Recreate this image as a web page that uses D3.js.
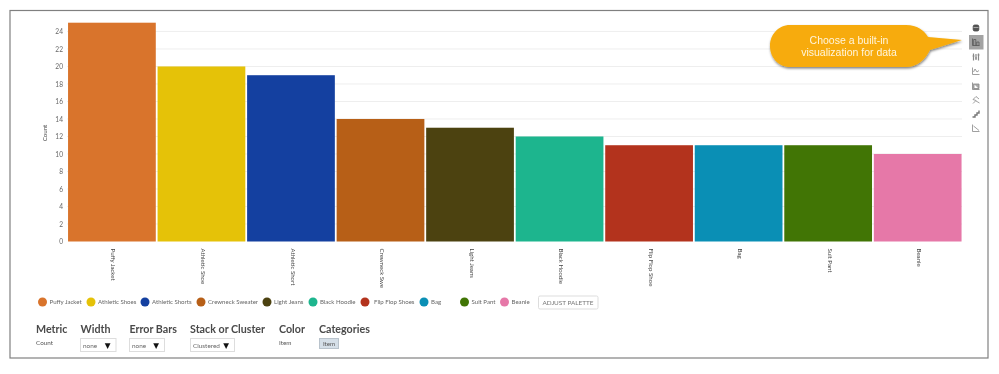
<!DOCTYPE html>
<html>
<head>
<meta charset="utf-8">
<script src="https://d3js.org/d3.v7.min.js"></script>
<style>
    html, body { margin: 0; padding: 0; background: #fff; overflow: hidden; }
    svg { display: block; filter: blur(0.35px); }
    text { font-family: Lato, sans-serif; }
    .axis-y .domain, .axis-x .domain, .axis-x line, .axis-y line { display: none; }
</style>
</head>
<body>
<script>
const items = ["Puffy Jacket", "Athletic Shoes", "Athletic Shorts", "Crewneck Sweater", "Light Jeans",
    "Black Hoodie", "Flip Flop Shoes", "Bag", "Suit Pant", "Beanie"];
const tickLabels = ["Puffy Jacket", "Athletic Shoe", "Athletic Short", "Crewneck Swe", "Light Jeans",
    "Black Hoodie", "Flip Flop Shoe", "Bag", "Suit Pant", "Beanie"];
const counts = [25, 20, 19, 14, 13, 12, 11, 11, 11, 10];
const colors = ["#d9742c", "#e5c208", "#1440a0", "#b75f17", "#4c4210", "#1db58e", "#b3331d", "#0a8fb5", "#417505", "#e678a8"];
const yTicks = [0, 2, 4, 6, 8, 10, 12, 14, 16, 18, 20, 22, 24];
const controlHeads = ["Metric", "Width", "Error Bars", "Stack or Cluster", "Color", "Categories"];
const selectValues = ["none", "none", "Clustered"];

const svg = d3.select("body").append("svg")
    .attr("width", 999)
    .attr("height", 374);

// outer frame
svg.append("rect")
    .attr("x", 10).attr("y", 10.5)
    .attr("width", 978).attr("height", 347.5)
    .attr("fill", "#fff")
    .attr("stroke", "#808080")
    .attr("stroke-width", 1.2);

const xScale = d3.scaleBand()
    .domain(items)
    .range([67.6, 962])
    .paddingInner(0.02)
    .paddingOuter(0.005);

const yScale = d3.scaleLinear()
    .domain([0, 25])
    .range([241.5, 22.7]);

// gridlines
svg.append("g")
    .selectAll("line")
    .data(yTicks.slice(1))
    .enter()
    .append("line")
    .attr("x1", 67)
    .attr("x2", 962)
    .attr("y1", d => yScale(d))
    .attr("y2", d => yScale(d))
    .attr("stroke", "#eeeeee");

svg.append("g")
    .selectAll("rect")
    .data(items)
    .enter()
    .append("rect")
    .attr("x", d => xScale(d))
    .attr("y", (d, i) => yScale(counts[i]))
    .attr("width", xScale.bandwidth())
    .attr("height", (d, i) => yScale(0) - yScale(counts[i]))
    .attr("fill", (d, i) => colors[i]);

const yAxis = d3.axisLeft(yScale).tickValues(yTicks).tickSize(0).tickPadding(4);
svg.append("g")
    .attr("class", "axis-y")
    .attr("transform", "translate(67,0)")
    .call(yAxis)
    .selectAll("text")
    .style("font-family", "Lato, sans-serif")
    .style("font-size", "6.6px")
    .attr("fill", "#666");

const xAxis = d3.axisBottom(xScale).tickSize(0).tickFormat((d, i) => tickLabels[i]);
svg.append("g")
    .attr("class", "axis-x")
    .attr("transform", "translate(1.5,241.5)")
    .call(xAxis)
    .selectAll("text")
    .style("font-family", "Lato, sans-serif")
    .style("font-size", "6.1px")
    .attr("fill", "#444")
    .attr("text-anchor", "start")
    .attr("transform", "rotate(90)")
    .attr("x", 7)
    .attr("y", 0)
    .attr("dy", "0.32em");

svg.append("text")
    .attr("transform", "translate(47,133) rotate(-90)")
    .attr("text-anchor", "middle")
    .attr("font-size", "6.2px")
    .attr("fill", "#444")
    .text("Count");

// legend
const legendX = [42.5, 91, 145, 201, 267, 313, 365, 424, 464.5, 504.5];
const legend = svg.append("g");
items.forEach((item, i) => {
    legend.append("circle")
        .attr("cx", legendX[i])
        .attr("cy", 302)
        .attr("r", 4.5)
        .attr("fill", colors[i]);
    legend.append("text")
        .attr("x", legendX[i] + (i === 6 ? 9 : 7))
        .attr("y", 304.2)
        .attr("font-size", "6.1px")
        .attr("fill", "#666")
        .text(item);
});

svg.append("rect")
    .attr("x", 538.5).attr("y", 296)
    .attr("width", 59.5).attr("height", 13)
    .attr("rx", 1.5)
    .attr("fill", "#fff")
    .attr("stroke", "#dddddd");
svg.append("text")
    .attr("x", 568).attr("y", 304.5)
    .attr("text-anchor", "middle")
    .attr("font-size", "6.4px")
    .attr("fill", "#777")
    .text("ADJUST PALETTE");

// control row
const headX = [36, 80.5, 129.5, 190, 279, 319];
controlHeads.forEach((h, i) => {
    svg.append("text")
        .attr("x", headX[i])
        .attr("y", 333)
        .attr("font-size", "10.7px")
        .attr("font-weight", 700)
        .attr("fill", "#4a4a4a")
        .text(h);
});

svg.append("text").attr("x", 36).attr("y", 344.5)
    .attr("font-size", "6.3px").attr("fill", "#555").text("Count");
svg.append("text").attr("x", 279).attr("y", 344.5)
    .attr("font-size", "6.3px").attr("fill", "#555").text("Item");

const selectBoxes = [[80.5, 35.5], [129.5, 35], [190.5, 44]];
selectValues.forEach((v, i) => {
    const [bx, bw] = selectBoxes[i];
    svg.append("rect")
        .attr("x", bx).attr("y", 338.5)
        .attr("width", bw).attr("height", 13)
        .attr("fill", "#fff")
        .attr("stroke", "#dddddd");
    svg.append("text")
        .attr("x", bx + 2.5).attr("y", 348)
        .attr("font-size", "6.4px").attr("fill", "#666")
        .text(v);
    svg.append("text")
        .attr("x", bx + bw - 8.3).attr("y", 347.5)
        .attr("text-anchor", "middle")
        .attr("font-size", "7.5px").attr("fill", "#111")
        .style("font-family", "'DejaVu Sans', sans-serif")
        .text("▼");
});

svg.append("rect")
    .attr("x", 319.5).attr("y", 338.5)
    .attr("width", 19).attr("height", 10)
    .attr("fill", "#d5dfe8")
    .attr("stroke", "#b9c3cc");
svg.append("text")
    .attr("x", 329).attr("y", 345.8)
    .attr("text-anchor", "middle")
    .attr("font-size", "6.2px").attr("fill", "#555")
    .text("Item");

// toolbar on the right
svg.append("rect")
    .attr("x", 969).attr("y", 35)
    .attr("width", 14.5).attr("height", 14.5)
    .attr("fill", "#a3a3a3");

const iconY = [28, 42, 57, 71, 86, 100, 114, 128];
const icons = svg.append("g")
    .attr("fill", "none")
    .attr("stroke", "#888")
    .attr("stroke-width", 0.8);
iconY.forEach((y, i) => {
    const g = icons.append("g").attr("transform", `translate(976,${y})`);
    if (i === 0) {
        // database cylinder
        g.append("rect").attr("x", -2.8).attr("y", -3).attr("width", 5.6).attr("height", 6).attr("rx", 1.5).attr("fill", "#555").attr("stroke", "#444");
        g.append("path").attr("d", "M-2.5,-0.5H2.5").attr("stroke", "#bbb");
    } else if (i === 1) {
        g.append("path").attr("d", "M-3.5,3.5V-3.5M-3.5,3.5H3.5M-2.3,3.5V-2.5H-0.2V3.5M0.8,3.5V0H3V3.5").attr("stroke", "#555");
    } else if (i === 2) {
        g.append("path").attr("d", "M-2.5,-3.5V3.5M0,-3V3M2.5,-3.5V3.5M-3.5,-1H-1.5M-1,1H1M1.5,-2H3.5").attr("stroke-width", 1.2);
    } else if (i === 3) {
        g.append("path").attr("d", "M-3.5,-3.5V3.5H3.5M-2.5,1L-1,-2L1,1L3,-0.5");
    } else if (i === 4) {
        g.append("path").attr("d", "M-3.5,-3.5V3.5H3.5M-2,-2H3V2.5H-2Z").attr("fill", "#aaa");
    } else if (i === 5) {
        g.append("path").attr("d", "M-3,3.5L0,0.5L-3,-0.5L0,-3.5L3,-1M0,1L3.5,3");
    } else if (i === 6) {
        g.append("path").attr("d", "M-3.5,3H-1V1H1V-1H3V-3.5").attr("stroke-width", 1.4).attr("stroke", "#777");
    } else {
        g.append("path").attr("d", "M-3.5,-3.5V3.5H3.5M-2.5,-2L0,0L3,2.5");
    }
});

// callout
const defs = svg.append("defs");
const shadow = defs.append("filter").attr("id", "callout-shadow")
    .attr("x", "-10%").attr("y", "-20%").attr("width", "120%").attr("height", "150%");
shadow.append("feDropShadow")
    .attr("dx", 0.5).attr("dy", 1.5).attr("stdDeviation", 1)
    .attr("flood-color", "#000").attr("flood-opacity", 0.5);

svg.append("path")
    .attr("d", "M790,25H906C917,25 924,30 928,37L962,40L930,50C925,60 917,67 906,67H790C778,67 770,57 770,46C770,35 778,25 790,25Z")
    .attr("fill", "#f7ab0a")
    .attr("filter", "url(#callout-shadow)");

["Choose a built-in", "visualization for data"].forEach((line, i) => {
    svg.append("text")
        .attr("x", 849)
        .attr("y", 43.5 + i * 12.5)
        .attr("text-anchor", "middle")
        .attr("font-size", "10.5px")
        .attr("fill", "#fff5dc")
        .style("font-family", "'Liberation Sans', sans-serif")
        .text(line);
});
</script>
</body>
</html>
